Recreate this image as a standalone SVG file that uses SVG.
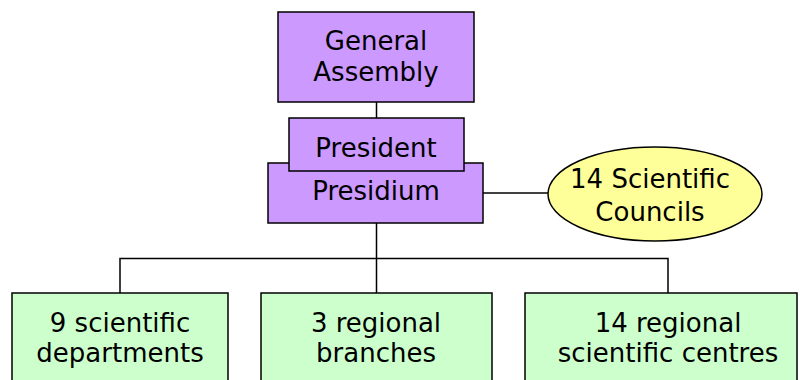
<svg xmlns="http://www.w3.org/2000/svg" width="800" height="380" viewBox="0 0 800 380">
<style>
.p{fill:#CC99FF;stroke:#000;stroke-width:1.5}
.y{fill:#FFFF99;stroke:#000;stroke-width:1.5}
.g{fill:#CCFFCC;stroke:#000;stroke-width:1.5}
.c{fill:none;stroke:#000;stroke-width:1.5}
text{font-family:"DejaVu Sans",Verdana,sans-serif;font-size:26px;fill:#000;text-anchor:middle}
</style>
<rect width="800" height="380" fill="#fff"/>
<g id="connectors">
<line class="c" x1="376.5" y1="102" x2="376.5" y2="118"/>
<line class="c" x1="483" y1="193" x2="548" y2="193"/>
<line class="c" x1="376.5" y1="223" x2="376.5" y2="293"/>
<polyline class="c" points="120,293 120,258.5 668,258.5 668,293"/>
</g>
<g id="general-assembly">
<rect class="p" x="278" y="12" width="196" height="90"/>
<text x="376" y="50">General</text>
<text x="376" y="81">Assembly</text>
</g>
<g id="presidium">
<rect class="p" x="268" y="163" width="215" height="60"/>
<text x="376" y="200">Presidium</text>
</g>
<g id="president">
<rect class="p" x="289" y="118" width="175" height="53"/>
<text x="376" y="157">President</text>
</g>
<g id="councils">
<ellipse class="y" cx="655" cy="194" rx="107" ry="47"/>
<text x="650" y="188">14 Scientific</text>
<text x="650" y="221">Councils</text>
</g>
<g id="departments">
<rect class="g" x="12" y="293" width="216" height="100"/>
<text x="120" y="332">9 scientific</text>
<text x="120" y="362">departments</text>
</g>
<g id="branches">
<rect class="g" x="261" y="293" width="231" height="100"/>
<text x="376" y="332">3 regional</text>
<text x="376" y="362">branches</text>
</g>
<g id="centres">
<rect class="g" x="525" y="293" width="272" height="100"/>
<text x="668" y="332">14 regional</text>
<text x="668" y="362">scientific centres</text>
</g>
</svg>
